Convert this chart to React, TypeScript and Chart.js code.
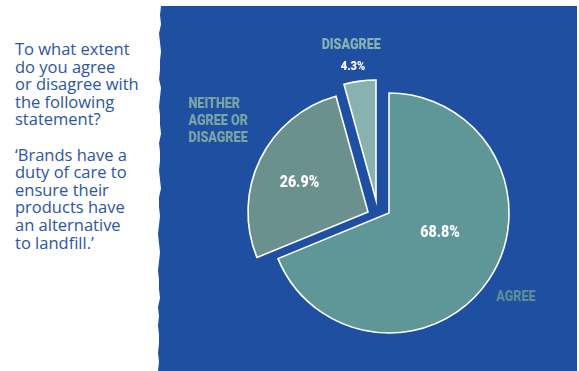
import React, { useEffect, useRef } from "react";
import { Chart, registerables } from "chart.js";

Chart.register(...registerables);

// ---- data ----
const categories: string[][] = [["AGREE"], ["NEITHER", "AGREE OR", "DISAGREE"], ["DISAGREE"]];
const values: number[] = [68.8, 26.9, 4.3];
const valueLabels: string[] = ["68.8%", "26.9%", "4.3%"];

const questionLines: string[] = [
  "To what extent",
  "do you agree",
  "or disagree with",
  "the following",
  "statement?",
  "",
  "\u2018Brands have a",
  "duty of care to",
  "ensure their",
  "products have",
  "an alternative",
  "to landfill.\u2019",
];

// ---- style ----
const BLUE = "#1f4fa0";
const sliceColors = ["#5f9698", "#6b918f", "#88b2b0"];
const nameColors = ["#5b8d94", "#79a6a3", "#86b3b0"];
// explode shift of each slice (px)
const explode: [number, number][] = [[0, 0], [-21, -1], [-13, -13]];
// label placement: fraction across slice angle, factor of radius
const pctPlace: [number, number][] = [[0.45, 0.457], [0.466, 0.62], [0.37, 1.13]];
const namePlace: [number, number][] = [[0.499, 1.27], [0.553, 1.46], [0.41, 1.3]];
const pctFontSize = [16.5, 16.5, 13];
const LABEL_FONT = "Roboto, 'DejaVu Sans', sans-serif";
const PCT_SQUEEZE = 0.86;
const NAME_SQUEEZE = 0.9;

function drawCondensed(ctx: CanvasRenderingContext2D, text: string, x: number, y: number, align: "left" | "center", sq: number) {
  ctx.save();
  ctx.translate(x, y);
  ctx.scale(sq, 1);
  ctx.textAlign = align;
  ctx.fillText(text, 0, 0);
  ctx.restore();
}

const explodePlugin = {
  id: "explodeSlices",
  afterDatasetsUpdate(chart: any) {
    const meta = chart.getDatasetMeta(0);
    meta.data.forEach((arc: any, i: number) => {
      const [dx, dy] = explode[i] || [0, 0];
      arc.x += dx;
      arc.y += dy;
    });
  },
};

const labelPlugin = {
  id: "sliceLabels",
  afterDatasetsDraw(chart: any) {
    const ctx = chart.ctx;
    const meta = chart.getDatasetMeta(0);
    ctx.save();
    ctx.textBaseline = "middle";
    meta.data.forEach((arc: any, i: number) => {
      const { x, y, startAngle, endAngle, outerRadius } = arc.getProps(
        ["x", "y", "startAngle", "endAngle", "outerRadius"],
        true
      );
      // percentage
      const [pf, pk] = pctPlace[i];
      const pa = startAngle + pf * (endAngle - startAngle);
      const px = x + Math.cos(pa) * outerRadius * pk;
      const py = y + Math.sin(pa) * outerRadius * pk;
      ctx.fillStyle = "#ffffff";
      ctx.font = `900 ${pctFontSize[i]}px ${LABEL_FONT}`;
      drawCondensed(ctx, valueLabels[i], px, py, "center", PCT_SQUEEZE);
      // category name
      const [nf, nk] = namePlace[i];
      const na = startAngle + nf * (endAngle - startAngle);
      const nx = x + Math.cos(na) * outerRadius * nk;
      const ny = y + Math.sin(na) * outerRadius * nk;
      ctx.font = `900 14px ${LABEL_FONT}`;
      ctx.fillStyle = nameColors[i];
      const lines = categories[i];
      const lh = 17;
      const maxW = Math.max(...lines.map((l) => ctx.measureText(l).width)) * NAME_SQUEEZE;
      lines.forEach((l, j) => {
        const ly = ny + (j - (lines.length - 1) / 2) * lh;
        if (lines.length > 1) drawCondensed(ctx, l, nx - maxW / 2, ly, "left", NAME_SQUEEZE);
        else drawCondensed(ctx, l, nx, ly, "center", NAME_SQUEEZE);
      });
    });
    ctx.restore();
  },
};

function tornEdge(): string {
  const xs = [3, 2, 3, 1, 2, 3, 2, 2, 1, 3, 2, 1, 2, 2, 3, 1, 2, 2, 1, 2, 3, 1, 1, 2, 1, 0, 1, 2, 1, 0, 1, 1, 2, 0, 1, 0, 1, 1, 0, 1, 0];
  const h = 365;
  const step = h / (xs.length - 1);
  const left = xs.map((v, i) => `${v + 1}px ${(i * step).toFixed(1)}px`);
  left.reverse();
  return `polygon(100% 0, 100% 100%, ${left.join(", ")})`;
}

export default function App() {
  const canvasRef = useRef<HTMLCanvasElement | null>(null);

  useEffect(() => {
    document.body.style.margin = "0";
    const canvas = canvasRef.current;
    if (!canvas) return;
    const chart = new Chart(canvas, {
      type: "pie",
      data: {
        labels: categories.map((c) => c.join(" ")),
        datasets: [
          {
            data: values,
            backgroundColor: sliceColors,
            borderColor: "#ffffff",
            borderWidth: 1.6,
            borderJoinStyle: "miter",
          } as any,
        ],
      },
      options: {
        responsive: false,
        animation: false,
        devicePixelRatio: 1,
        radius: 120,
        layout: { padding: { left: 259, right: 60, top: 93, bottom: 38 } },
        plugins: {
          legend: { display: false },
          tooltip: { enabled: false },
        },
      } as any,
      plugins: [explodePlugin, labelPlugin],
    });
    return () => chart.destroy();
  }, []);

  return (
    <div
      style={{
        position: "fixed",
        left: 0,
        top: 0,
        width: 579,
        height: 371,
        background: "#ffffff",
        overflow: "hidden",
      }}
    >
      <div
        style={{
          position: "absolute",
          left: 157,
          top: 6,
          width: 420,
          height: 365,
          background: BLUE,
          clipPath: tornEdge(),
        }}
      />
      <div
        style={{
          position: "absolute",
          left: 15,
          top: 40,
          fontFamily: "'Open Sans', sans-serif",
          fontWeight: 500,
          fontSize: 16.5,
          lineHeight: "17.6px",
          color: "#2b55a6",
          whiteSpace: "pre",
        }}
      >
        {questionLines.map((l, i) => (
          <div key={i} style={{ height: 17.6 }}>{l}</div>
        ))}
      </div>
      <canvas
        ref={canvasRef}
        width={579}
        height={371}
        style={{ position: "absolute", left: 0, top: 0, width: 579, height: 371 }}
      />
    </div>
  );
}
